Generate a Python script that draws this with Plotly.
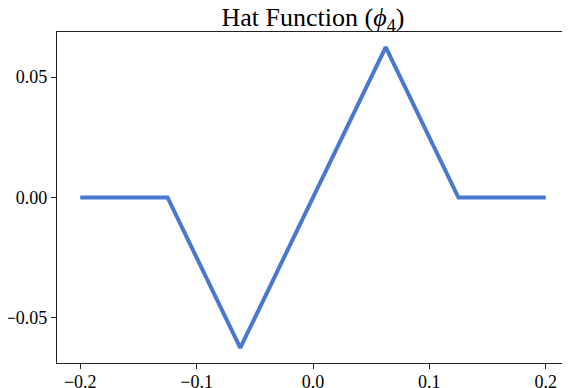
import plotly.graph_objects as go

# hat function phi_4 on a uniform grid, h = 0.0625
x_nodes = [-0.2, -0.125, -0.0625, 0.0625, 0.125, 0.2]
phi4 = [0.0, 0.0, -0.0625, 0.0625, 0.0, 0.0]

xticks = [-0.2, -0.1, 0.0, 0.1, 0.2]
yticks = [-0.05, 0.0, 0.05]

fig = go.Figure()
fig.add_trace(go.Scatter(x=x_nodes, y=phi4, mode="lines",
                         line=dict(color="#4878d0", width=4), showlegend=False))

axis_style = dict(showgrid=False, zeroline=False, showline=True, mirror=True,
                  linecolor="#222", linewidth=1.2, ticks="outside", ticklen=5,
                  tickcolor="#222", tickfont=dict(size=18, color="black"),
                  automargin=False)

# page body adds an 8px offset, so the figure is a bit smaller than the window
fig.update_layout(
    width=562, height=380,
    margin=dict(l=49, r=1, t=24, b=25, autoexpand=False),
    paper_bgcolor="white", plot_bgcolor="white",
    font=dict(family="Liberation Serif, Times New Roman, serif", color="black"),
    title=dict(text="Hat Function (<i>ϕ</i><sub>4</sub>)", x=0.5, xref="paper",
               xanchor="center", y=1.0, yanchor="top", font=dict(size=26),
               automargin=False),
)
fig.update_xaxes(range=[-0.22, 0.22], tickvals=xticks, tickformat=".1f",
                 ticklabelstandoff=-3, **axis_style)
fig.update_yaxes(range=[-0.06875, 0.06875], tickvals=yticks, tickformat=".2f",
                 **axis_style)

fig.write_html("out.html")
